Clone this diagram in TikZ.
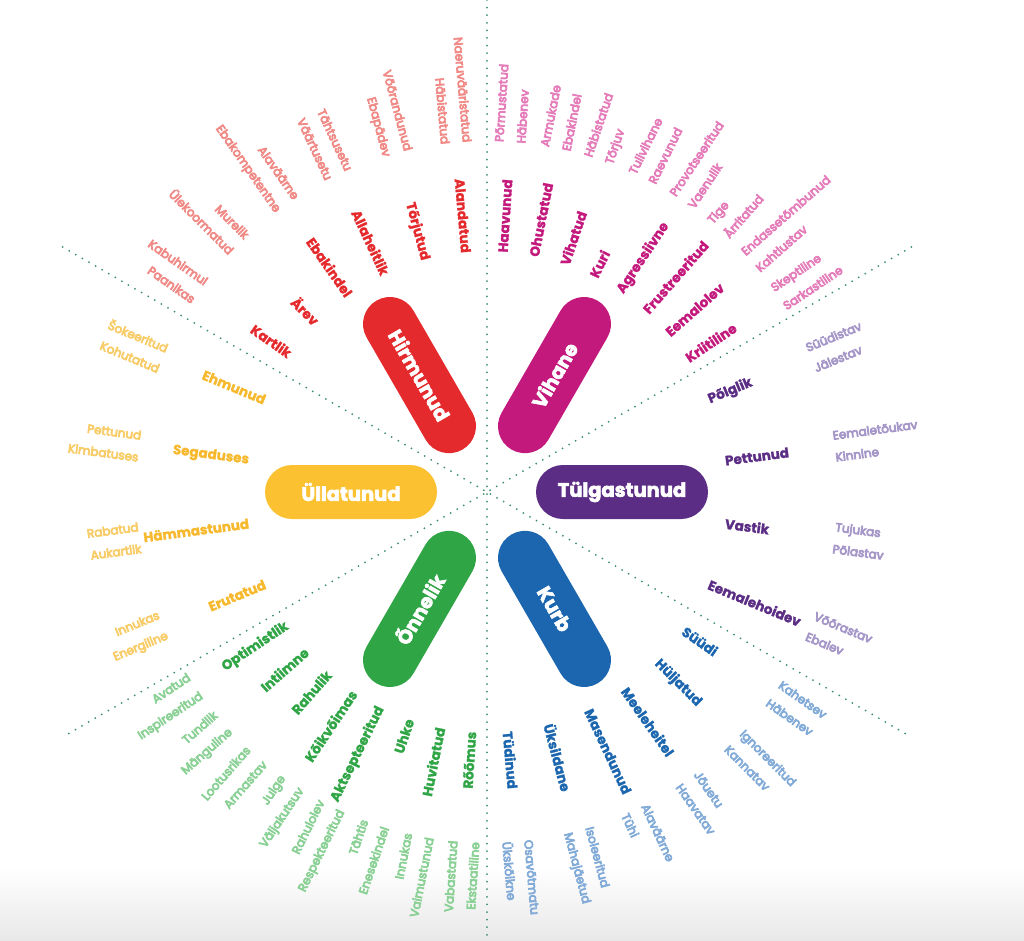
\documentclass[tikz,border=0pt]{standalone}
\usepackage{fontspec}
\setmainfont{Poppins}
\usepackage{tikz}
\usetikzlibrary{positioning}
\definecolor{hirmred}{HTML}{E42A2D}
\definecolor{hirmlite}{HTML}{F08A86}
\definecolor{vihmag}{HTML}{C3187C}
\definecolor{vihlite}{HTML}{E47DBA}
\definecolor{tulpurp}{HTML}{5B2D84}
\definecolor{tullite}{HTML}{A597C8}
\definecolor{kurbblue}{HTML}{1B66AE}
\definecolor{kurblite}{HTML}{83ABD8}
\definecolor{onngreen}{HTML}{2FA545}
\definecolor{onnlite}{HTML}{8BD196}
\definecolor{ullyel}{HTML}{FBC131}
\definecolor{ullgold}{HTML}{F6B82C}
\definecolor{ulllite}{HTML}{F8CC68}
\definecolor{dotgreen}{HTML}{3D8F6B}

\begin{document}
\begin{tikzpicture}[x=1pt, y=1pt,
    pill/.style={rectangle, fill=#1, rounded corners=27pt, text=white,
      font=\fontsize{19.5}{19.5}\selectfont\bfseries\addfontfeature{FakeBold=3},
      minimum width=172pt, minimum height=54pt, inner sep=0pt},
    inR/.style={anchor=west, inner sep=0pt, text=#1,
      font=\fontsize{13.5}{16}\selectfont\bfseries\addfontfeature{FakeBold=1.5}},
    inL/.style={inR=#1, anchor=east},
    outR/.style={anchor=west, inner sep=0pt, text=#1, align=left,
      font=\fontsize{12}{22}\selectfont\addfontfeature{FakeBold=6}},
    outL/.style={outR=#1, anchor=east, align=right},
    guide/.style={draw=dotgreen, line width=2pt, line cap=round,
      dash pattern=on 0pt off 7.6pt}
  ]
    \useasboundingbox (-487,-448) rectangle (537,492);
    \shade[top color=white, bottom color=black!9] (-487,-448) rectangle (537,-375);

    %% guide lines
    \coordinate (top) at (0,492);
    \coordinate (bot) at (0,-448);
    \draw[guide] (top) -- (bot);
    \draw[guide] (150:490) -- (330:490);
    \draw[guide] (30:490) -- (210:490);

    %% centre pills
    \node[pill=hirmred,  rotate=-60] (hirm) at (120:135) {Hirmunud};
    \node[pill=vihmag,   rotate=60]  (vih)  at (60:135)  {Vihane};
    \node[pill=tulpurp]              (tul)  at (0:135)   {Tülgastunud};
    \node[pill=kurbblue, rotate=-60] (kurb) at (-60:135) {Kurb};
    \node[pill=onngreen, rotate=60]  (onn)  at (240:135) {Õnnelik};
    \node[pill=ullyel]               (ull)  at (180:136) {Üllatunud};

    %% Hirmunud
    \node[inL=hirmred, rotate=-85] (hi1) at (95:240)  {Alandatud};
    \node[inL=hirmred, rotate=-75] (hi2) at (105:240) {Tõrjutud};
    \node[inL=hirmred, rotate=-65] (hi3) at (115:240) {Allaheitlik};
    \node[inL=hirmred, rotate=-55] (hi4) at (125:240) {Ebakindel};
    \node[inL=hirmred, rotate=-45] (hi5) at (135:240) {Ärev};
    \node[inL=hirmred, rotate=-35] (hi6) at (145:240) {Kartlik};
    \node[outL=hirmlite, rotate=-85] (ho1) at (95:350)  {Naeruvääristatud\\Häbistatud};
    \node[outL=hirmlite, rotate=-75] (ho2) at (105:350) {Võõrandunud\\Ebapädev};
    \node[outL=hirmlite, rotate=-65] (ho3) at (115:350) {Tähtsusetu\\Väärtusetu};
    \node[outL=hirmlite, rotate=-55] (ho4) at (125:350) {Alaväärne\\Ebakompetentne};
    \node[outL=hirmlite, rotate=-45] (ho5) at (135:350) {Murelik\\Ülekoormatud};
    \node[outL=hirmlite, rotate=-35] (ho6) at (145:350) {Kabuhirmul\\Paanikas};

    %% Vihane
    \node[inR=vihmag, rotate=86.25] (vi1) at (86.25:240) {Haavunud};
    \node[inR=vihmag, rotate=78.75] (vi2) at (78.75:240) {Ohustatud};
    \node[inR=vihmag, rotate=71.25] (vi3) at (71.25:240) {Vihatud};
    \node[inR=vihmag, rotate=63.75] (vi4) at (63.75:240) {Kuri};
    \node[inR=vihmag, rotate=56.25] (vi5) at (56.25:240) {Agressiivne};
    \node[inR=vihmag, rotate=48.75] (vi6) at (48.75:240) {Frustreeritud};
    \node[inR=vihmag, rotate=41.25] (vi7) at (41.25:240) {Eemalolev};
    \node[inR=vihmag, rotate=33.75] (vi8) at (33.75:240) {Kriitiline};
    \node[outR=vihlite, rotate=86.25] (vo1) at (86.25:350) {Põrmustatud\\Häbenev};
    \node[outR=vihlite, rotate=78.75] (vo2) at (78.75:350) {Armukade\\Ebakindel};
    \node[outR=vihlite, rotate=71.25] (vo3) at (71.25:350) {Häbistatud\\Tõrjuv};
    \node[outR=vihlite, rotate=63.75] (vo4) at (63.75:350) {Tulivihane\\Raevunud};
    \node[outR=vihlite, rotate=56.25] (vo5) at (56.25:350) {Provotseeritud\\Vaenulik};
    \node[outR=vihlite, rotate=48.75] (vo6) at (48.75:350) {Tige\\Ärritatud};
    \node[outR=vihlite, rotate=41.25] (vo7) at (41.25:350) {Endassetõmbunud\\Kahtlustav};
    \node[outR=vihlite, rotate=33.75] (vo8) at (33.75:350) {Skeptiline\\Sarkastiline};

    %% Tülgastunud
    \node[inR=tulpurp, rotate=22.5]  (ti1) at (22.5:240)  {Põlglik};
    \node[inR=tulpurp, rotate=7.5]   (ti2) at (7.5:240)   {Pettunud};
    \node[inR=tulpurp, rotate=-7.5]  (ti3) at (-7.5:240)  {Vastik};
    \node[inR=tulpurp, rotate=-22.5] (ti4) at (-22.5:240) {Eemalehoidev};
    \node[outR=tullite, rotate=22.5]  (to1) at (22.5:350)  {Süüdistav\\Jälestav};
    \node[outR=tullite, rotate=7.5]   (to2) at (7.5:350)   {Eemaletõukav\\Kinnine};
    \node[outR=tullite, rotate=-7.5]  (to3) at (-7.5:350)  {Tujukas\\Põlastav};
    \node[outR=tullite, rotate=-22.5] (to4) at (-22.5:350) {Võõrastav\\Ebalev};

    %% Kurb
    \node[inR=kurbblue, rotate=-35] (ki1) at (-35:240) {Süüdi};
    \node[inR=kurbblue, rotate=-45] (ki2) at (-45:240) {Hüljatud};
    \node[inR=kurbblue, rotate=-55] (ki3) at (-55:240) {Meeleheitel};
    \node[inR=kurbblue, rotate=-65] (ki4) at (-65:240) {Masendunud};
    \node[inR=kurbblue, rotate=-75] (ki5) at (-75:240) {Üksildane};
    \node[inR=kurbblue, rotate=-85] (ki6) at (-85:240) {Tüdinud};
    \node[outR=kurblite, rotate=-35] (ko1) at (-35:350) {Kahetsev\\Häbenev};
    \node[outR=kurblite, rotate=-45] (ko2) at (-45:350) {Ignoreeritud\\Kannatav};
    \node[outR=kurblite, rotate=-55] (ko3) at (-55:350) {Jõuetu\\Haavatav};
    \node[outR=kurblite, rotate=-65] (ko4) at (-65:350) {Alaväärne\\Tühi};
    \node[outR=kurblite, rotate=-75] (ko5) at (-75:350) {Isoleeritud\\Mahajäetud};
    \node[outR=kurblite, rotate=-85] (ko6) at (-85:350) {Osavõtmatu\\Ükskõikne};

    %% Õnnelik
    \node[inL=onngreen, rotate=33.75] (oi1) at (213.75:240) {Optimistlik};
    \node[inL=onngreen, rotate=41.25] (oi2) at (221.25:240) {Intiimne};
    \node[inL=onngreen, rotate=48.75] (oi3) at (228.75:240) {Rahulik};
    \node[inL=onngreen, rotate=56.25] (oi4) at (236.25:240) {Kõikvõimas};
    \node[inL=onngreen, rotate=63.75] (oi5) at (243.75:240) {Aktsepteeritud};
    \node[inL=onngreen, rotate=71.25] (oi6) at (251.25:240) {Uhke};
    \node[inL=onngreen, rotate=78.75] (oi7) at (258.75:240) {Huvitatud};
    \node[inL=onngreen, rotate=86.25] (oi8) at (266.25:240) {Rõõmus};
    \node[outL=onnlite, rotate=33.75] (oo1) at (213.75:350) {Avatud\\Inspireeritud};
    \node[outL=onnlite, rotate=41.25] (oo2) at (221.25:350) {Tundlik\\Mänguline};
    \node[outL=onnlite, rotate=48.75] (oo3) at (228.75:350) {Lootusrikas\\Armastav};
    \node[outL=onnlite, rotate=56.25] (oo4) at (236.25:350) {Julge\\Väljakutsuv};
    \node[outL=onnlite, rotate=63.75] (oo5) at (243.75:350) {Rahulolev\\Respekteeritud};
    \node[outL=onnlite, rotate=71.25] (oo6) at (251.25:350) {Tähtis\\Enesekindel};
    \node[outL=onnlite, rotate=78.75] (oo7) at (258.75:350) {Innukas\\Vaimustunud};
    \node[outL=onnlite, rotate=86.25] (oo8) at (266.25:350) {Vabastatud\\Ekstaatiline};

    %% Üllatunud
    \node[inL=ullgold, rotate=-22.5] (ui1) at (157.5:240) {Ehmunud};
    \node[inL=ullgold, rotate=-7.5]  (ui2) at (172.5:240) {Segaduses};
    \node[inL=ullgold, rotate=7.5]   (ui3) at (187.5:240) {Hämmastunud};
    \node[inL=ullgold, rotate=22.5]  (ui4) at (202.5:240) {Erutatud};
    \node[outL=ulllite, rotate=-22.5] (uo1) at (157.5:350) {Šokeeritud\\Kohutatud};
    \node[outL=ulllite, rotate=-7.5]  (uo2) at (172.5:350) {Pettunud\\Kimbatuses};
    \node[outL=ulllite, rotate=7.5]   (uo3) at (187.5:350) {Rabatud\\Aukartlik};
    \node[outL=ulllite, rotate=22.5]  (uo4) at (202.5:350) {Innukas\\Energiline};
  \end{tikzpicture}
\end{document}
